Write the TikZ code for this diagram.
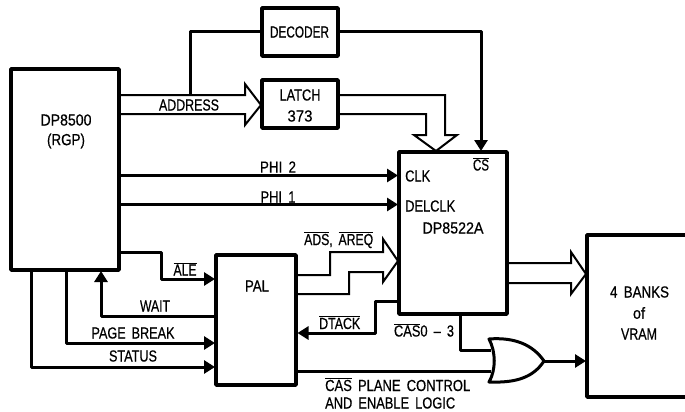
\documentclass[tikz,border=0pt]{standalone}
\usepackage{fontspec}
\usepackage{graphicx}
\setmainfont{Liberation Sans}[WordSpace=1.7,FakeBold=0.6]
\usetikzlibrary{arrows.meta}
\newcommand{\ovl}[1]{$\overline{\hbox{#1}}$}
\newcommand{\fw}[2]{\resizebox{#1pt}{\height}{#2}}
\tikzset{
  x=1pt,y=-1pt,
  blockbox/.style={draw=black,line width=3.6pt,fill=white,line join=round,inner sep=0pt},
  wire/.style={draw=black,line width=3pt,line join=round},
  sigwire/.style={wire,-{Triangle[length=11pt,width=13pt]}},
  bus/.style={draw=black,line width=2pt,line join=miter},
  lbl/.style={font=\fontsize{16pt}{19pt}\selectfont,inner sep=0pt,align=center},
}
\begin{document}
\begin{tikzpicture}
\useasboundingbox (0,0) rectangle (685,412);
% blocks
\path[blockbox] (11,69) rectangle (119,270);
\path[blockbox] (262,8) rectangle (338,56);
\path[blockbox] (262,80) rectangle (338,128);
\path[blockbox] (399,152) rectangle (507,314);
\path[blockbox] (216,255) rectangle (296,385);
\path[blockbox] (587,235) rectangle (700,397);
\node[lbl] (rgptxt) at (66,120) {\fw{51}{DP8500}};
\node[lbl] (rgptxt2) at (66,141) {\fw{38}{(RGP)}};
\node[lbl] (dec) at (299.5,32) {\fw{59}{DECODER}};
\node[lbl] (lat) at (300,95) {\fw{41}{LATCH}};
\node[lbl] (lat2) at (300,116) {\fw{25}{373}};
\node[lbl] (pal) at (257,286) {\fw{24}{PAL}};
\node[lbl] (dp) at (453,228) {\fw{61}{DP8522A}};
\node[lbl] (vr1) at (639.5,292) {\fw{59}{4 BANKS}};
\node[lbl] (vr2) at (639,313) {\fw{12}{of}};
\node[lbl] (vr3) at (639,334) {\fw{36}{VRAM}};
% address bus
\draw[bus] (119,95) -- (245,95) -- (245,84) -- (261,105) -- (245,125) -- (245,114) -- (119,114);
\node[lbl] (addr) at (189,105) {\fw{60}{ADDRESS}};
% decoder
\draw[wire] (190,95) -- (190,32) -- (262,32);
\draw[sigwire] (338,32) -- (481,32) -- (481,151);
% latch bus
\draw[bus] (338,95) -- (445,95) -- (445,135) -- (457,135) -- (436,151) -- (414,135) -- (426,135) -- (426,114) -- (338,114);
% clocks
\draw[sigwire] (119,175.5) -- (398,175.5);
\draw[sigwire] (119,204.5) -- (398,204.5);
\node[lbl] (phi2) at (278,167) {\fw{36}{PHI 2}};
\node[lbl] (phi1) at (278,197) {\fw{35}{PHI 1}};
\node[lbl,anchor=west] (clk) at (405,176) {\fw{25}{CLK}};
\node[lbl,anchor=west] (dclk) at (405,206) {\fw{50}{DELCLK}};
\node[lbl] (cs) at (481,164) {\fw{16}{\ovl{CS}}};
% RGP to PAL
\draw[sigwire] (119,252) -- (161,252) -- (161,279) -- (215,279);
\node[lbl] (ale) at (185,269) {\fw{23}{\ovl{ALE}}};
\draw[sigwire] (216,316) -- (101,316) -- (101,271);
\node[lbl] (wait) at (155,306) {\fw{30}{WAIT}};
\draw[sigwire] (66,270) -- (66,343) -- (215,343);
\node[lbl] (pb) at (133,333) {\fw{83}{PAGE BREAK}};
\draw[sigwire] (31,270) -- (31,367) -- (215,367);
\node[lbl] (st) at (133,356) {\fw{48}{STATUS}};
% PAL to DP8522A bus
\draw[bus] (296,275) -- (330,275) -- (330,252) -- (383,252) -- (383,239) -- (398,261) -- (383,282) -- (383,272) -- (349,272) -- (349,294) -- (296,294);
\node[lbl,anchor=west] (ads) at (304,240) {\fw{69}{\ovl{ADS}, \ovl{AREQ}}};
% DTACK
\draw[sigwire] (399,301) -- (375,301) -- (375,333) -- (297.5,333);
\node[lbl,anchor=west] (dt) at (319,322.5) {\fw{41}{\ovl{DTACK}}};
% output bus
\draw[bus] (507,263) -- (571,263) -- (571,252) -- (586,274) -- (571,294) -- (571,283) -- (507,283);
% OR gate
\draw[wire] (460,314) -- (460,350) -- (491,350);
\draw[wire] (296,371) -- (491,371);
\draw[draw=black,line width=3pt,line join=round,fill=white] (489,339) .. controls (496,352) and (496,370) .. (489,382) .. controls (515,383) and (533,378) .. (544,361) .. controls (533,345) and (515,337) .. (489,339) -- cycle;
\coordinate (ortip) at (544,361);
\draw[sigwire] (ortip) -- (586,361);
\node[lbl] (cas) at (424,330) {\fw{60}{\ovl{CAS}0 -- 3}};
\node[lbl,anchor=west] (pl) at (325,384.5) {\fw{145}{\ovl{CAS} PLANE CONTROL}};
\node[lbl,anchor=west] (en) at (325,403) {\fw{130}{AND ENABLE LOGIC}};
\end{tikzpicture}
\end{document}
